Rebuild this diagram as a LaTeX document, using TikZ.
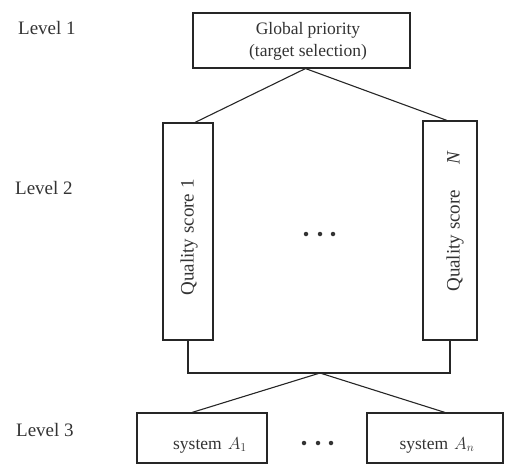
\documentclass[tikz,border=0pt]{standalone}
\usepackage{fontspec}
\setmainfont{Liberation Serif}
\usetikzlibrary{calc}
\begin{document}
\begin{tikzpicture}[x=1pt,y=-1pt,
  box/.style={draw=black!85,line width=1.1pt,inner sep=0pt},
  conn/.style={draw=black!85,line width=1.1pt},
  txt/.style={font=\fontsize{17.5}{22}\selectfont,text=black!80,inner sep=0pt},
  bigtxt/.style={txt,font=\fontsize{19}{23}\selectfont},
  dot/.style={circle,fill=black!80,inner sep=0pt,minimum size=4.5pt}]
\useasboundingbox (0,0) rectangle (509,466);

% level captions
\node[bigtxt,anchor=west] (l1) at (18,28) {Level 1};
\node[bigtxt,anchor=west] (l2) at (15,188) {Level 2};
\node[bigtxt,anchor=west] (l3) at (16,430) {Level 3};

% level 1
\node[box,minimum width=217pt,minimum height=55pt] (top) at (301.5,40.5) {};
\node[txt,align=center] (toptext) at (308,41) {Global priority\\(target selection)};

% level 2
\node[box,minimum width=50pt,minimum height=217pt] (q1) at (188,231.5) {};
\node[bigtxt,rotate=90] (q1t) at (189,237.5) {Quality score 1};
\node[box,minimum width=54pt,minimum height=219pt] (qn) at (450,230.5) {};
\node[bigtxt,rotate=90] (qnt) at (455,221.5) {Quality score\hspace{25pt}\textit{N}};
\node[dot] (m1) at (306,234) {};
\node[dot] (m2) at (320,234) {};
\node[dot] (m3) at (333,234) {};

% level 3
\node[box,minimum width=130pt,minimum height=50pt] (a1) at (202,438) {};
\node[txt] (a1t) at (210,445) {system\hspace{6pt}$A_1$};
\node[box,minimum width=136pt,minimum height=50pt] (an) at (435,438) {};
\node[txt] (ant) at (437,445) {system\hspace{6pt}$A_n$};
\node[dot] (b1) at (304,443) {};
\node[dot] (b2) at (318,443) {};
\node[dot] (b3) at (331,443) {};

% connectors
\coordinate (j) at (320,373);
\draw[conn] ($(top.south)+(4,0)$) -- ($(q1.north)+(7,0)$);
\draw[conn] ($(top.south)+(4,0)$) -- ($(qn.north)+(-3,0)$);
\draw[conn] (q1.south) |- (j) -| (qn.south);
\draw[conn] (j) -- ($(a1.north)+(-10,0)$);
\draw[conn] (j) -- ($(an.north)+(10,0)$);
\end{tikzpicture}
\end{document}
